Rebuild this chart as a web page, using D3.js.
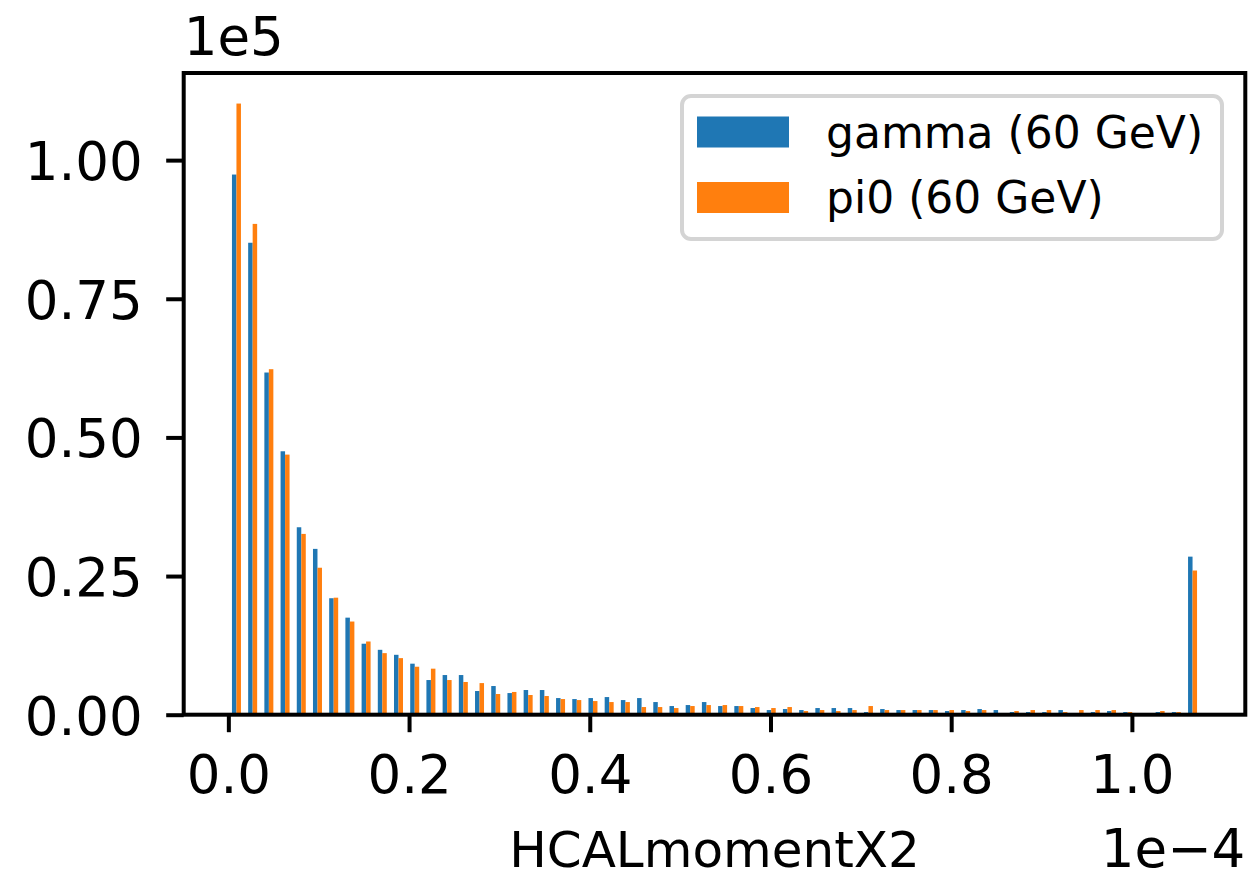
<!DOCTYPE html>
<html>
<head>
<meta charset="utf-8">
<script src="https://cdn.jsdelivr.net/npm/d3@7"></script>
<style>
  body { margin: 0; background: #fff; }
  svg { display: block; }
  text { font-family: "DejaVu Sans", sans-serif; fill: #000; }
</style>
</head>
<body>
<svg id="chart" width="1254" height="875"></svg>
<script>
// Histogram of HCALmomentX2: 60 equal bins, last bin collects the overflow.
const binCount = 60;
const binStart = 0;
const binWidth = 1.7935e-6;

const gammaCounts = [
  97400, 85100, 61700, 47500, 33800, 29900, 21000, 17500, 12800, 11700,
  10800, 9200, 6250, 7150, 7150, 4270, 5170, 3900, 4450, 4450,
  3000, 2820, 3000, 3180, 2640, 3000, 2280, 1560, 1740, 2280,
  1560, 1560, 1200, 840, 1020, 840, 1200, 1200, 1200, 480,
  1020, 840, 840, 840, 660, 840, 1020, 840, 480, 480,
  480, 840, 100, 480, 660, 480, 150, 480, 480, 28500
];
const pi0Counts = [
  110200, 88500, 62300, 46900, 32600, 26500, 21100, 16800, 13200, 11100,
  10200, 8650, 8300, 6250, 5900, 5700, 3730, 4100, 3550, 3370,
  2820, 2640, 2460, 2280, 2280, 1380, 1380, 1200, 1560, 1740,
  1740, 1560, 1380, 1200, 1380, 660, 840, 660, 840, 1560,
  840, 840, 840, 840, 840, 660, 840, 100, 660, 840,
  840, 480, 840, 840, 840, 480, 150, 660, 480, 26000
];

const seriesNames = ["gamma (60 GeV)", "pi0 (60 GeV)"];
const seriesColors = ["#1f77b4", "#ff7f0e"];
const xTickValues = [0, 0.2e-4, 0.4e-4, 0.6e-4, 0.8e-4, 1.0e-4];
const yTickValues = [0, 25000, 50000, 75000, 100000];
const xLabel = "HCALmomentX2";
const xOffsetLabel = "1e\u22124";
const yOffsetLabel = "1e5";

// ---- layout ----
const plot = { left: 183.7, right: 1245.3, top: 73, bottom: 714.7 };
const barFrac = 0.2775;           // each series bar as a fraction of the bin width
const groupStart = 0.5 - barFrac; // offset of the first bar inside its bin

const svg = d3.select("#chart");

const binLefts = d3.range(binCount).map(i => binStart + i * binWidth);
const series = [gammaCounts, pi0Counts];

// x limits follow the bar extents plus 5% padding
const barMin = binLefts[0] + groupStart * binWidth;
const barMax = binLefts[binCount - 1] + (groupStart + 2 * barFrac) * binWidth;
const pad = 0.05 * (barMax - barMin);
const x = d3.scaleLinear().domain([barMin - pad, barMax + pad]).range([plot.left, plot.right]);

const yMax = d3.max(series.flat()) * 1.05;
const y = d3.scaleLinear().domain([0, yMax]).range([plot.bottom, plot.top]);

// ---- bars ----
series.forEach((counts, s) => {
  const x0 = i => x(binLefts[i] + (groupStart + s * barFrac) * binWidth);
  const x1 = i => x(binLefts[i] + (groupStart + (s + 1) * barFrac) * binWidth);
  svg.append("g")
    .attr("fill", seriesColors[s])
    .selectAll("rect")
    .data(counts)
    .join("rect")
    .attr("x", (d, i) => x0(i))
    .attr("width", (d, i) => x1(i) - x0(i))
    .attr("y", d => y(d))
    .attr("height", d => y(0) - y(d));
});

// ---- axes ----
const tickLen = 17.5;
const tickFont = 53;

const xAxis = d3.axisBottom(x)
  .tickValues(xTickValues)
  .tickSize(tickLen)
  .tickPadding(0)
  .tickFormat(d => d3.format(".1f")(d / 1e-4));
const gx = svg.append("g").attr("transform", `translate(0,${plot.bottom})`).call(xAxis);
gx.select(".domain").remove();
gx.selectAll(".tick line").attr("stroke", "#000").attr("stroke-width", 4);
gx.selectAll(".tick text")
  .attr("font-size", tickFont)
  .attr("dy", null)
  .attr("y", 78);

const yAxis = d3.axisLeft(y)
  .tickValues(yTickValues)
  .tickSize(tickLen)
  .tickPadding(0)
  .tickFormat(d => d3.format(".2f")(d / 1e5));
const gy = svg.append("g").attr("transform", `translate(${plot.left},0)`).call(yAxis);
gy.select(".domain").remove();
gy.selectAll(".tick line").attr("stroke", "#000").attr("stroke-width", 4);
gy.selectAll(".tick text")
  .attr("font-size", tickFont)
  .attr("dy", null)
  .attr("x", -41)
  .attr("y", 19.5);

// ---- frame ----
svg.append("rect")
  .attr("x", plot.left)
  .attr("y", plot.top)
  .attr("width", plot.right - plot.left)
  .attr("height", plot.bottom - plot.top)
  .attr("fill", "none")
  .attr("stroke", "#000")
  .attr("stroke-width", 4)
  .attr("stroke-linejoin", "miter");

// ---- offset texts and label ----
svg.append("text")
  .attr("x", plot.left)
  .attr("y", 55)
  .attr("font-size", tickFont)
  .text(yOffsetLabel);

svg.append("text")
  .attr("x", plot.right)
  .attr("y", 867)
  .attr("text-anchor", "end")
  .attr("font-size", tickFont)
  .text(xOffsetLabel);

svg.append("text")
  .attr("x", (plot.left + plot.right) / 2)
  .attr("y", 867)
  .attr("text-anchor", "middle")
  .attr("font-size", 50)
  .text(xLabel);

// ---- legend ----
const legend = svg.append("g");
legend.append("rect")
  .attr("x", 682)
  .attr("y", 96)
  .attr("width", 540)
  .attr("height", 143)
  .attr("rx", 9)
  .attr("fill", "#fff")
  .attr("fill-opacity", 0.8)
  .attr("stroke", "#d4d4d4")
  .attr("stroke-width", 4);

seriesNames.forEach((name, i) => {
  const cy = 132 + i * 65.5;
  legend.append("rect")
    .attr("x", 697)
    .attr("y", cy - 15.5)
    .attr("width", 92)
    .attr("height", 31)
    .attr("fill", seriesColors[i]);
  legend.append("text")
    .attr("x", 826)
    .attr("y", cy + 15.5)
    .attr("font-size", 44)
    .text(name);
});
</script>
</body>
</html>
